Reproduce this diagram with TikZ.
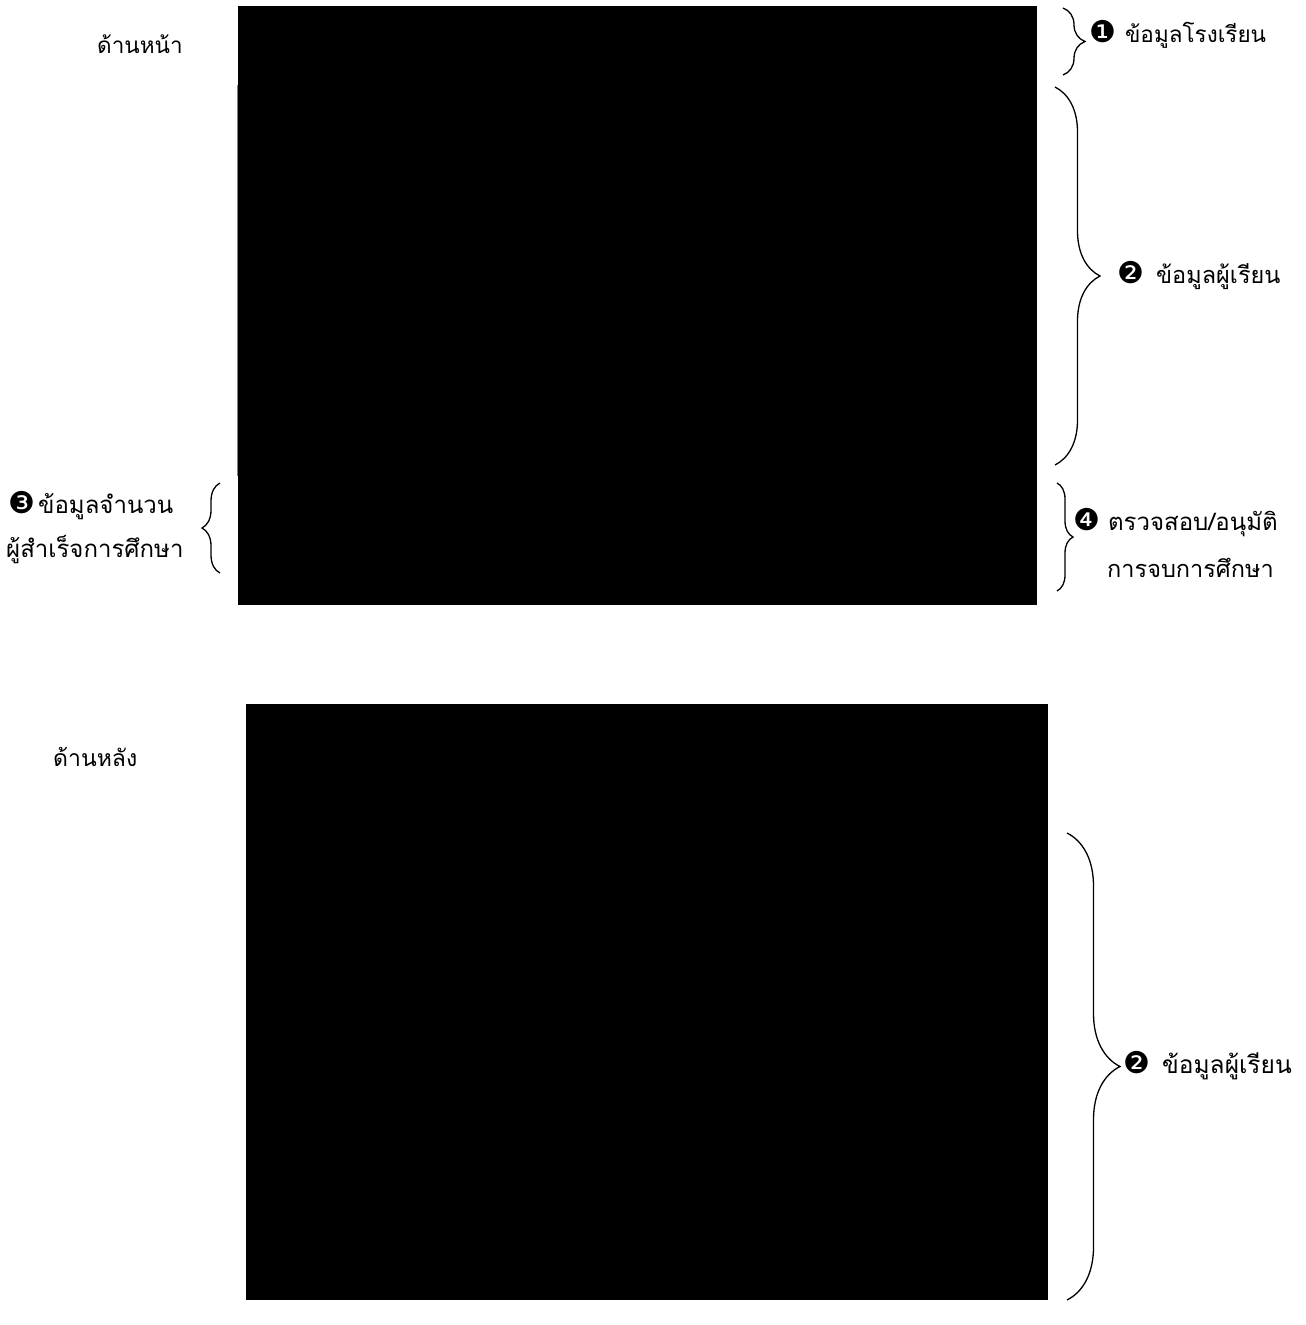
\documentclass[tikz,border=0pt]{standalone}
\usepackage{fontspec}
\newfontfamily\thaifont[Script=Thai]{Loma}
\newfontfamily\symfont{DejaVu Sans}
\usetikzlibrary{decorations.pathreplacing}
\newcommand{\thsize}[1]{\thaifont\fontsize{#1}{1.2\dimexpr#1pt\relax}\selectfont}
\newcommand{\numc}[1]{{\symfont\fontsize{30}{31}\selectfont #1}}
\begin{document}
\begin{tikzpicture}[x=1pt,y=-1pt,
  panel/.style={fill=black, draw=none, inner sep=0pt, outer sep=0pt, anchor=north west},
  lbl/.style={font=\thsize{23}, inner sep=0pt, anchor=base west},
  bracer/.style={decorate, decoration={brace, amplitude=#1}, line width=1.3pt},
]
\fill[white] (0,0) rectangle (1306,1325);
\useasboundingbox (0,0) rectangle (1306,1325);

% panels
\node[panel, minimum width=799pt, minimum height=599pt] (front) at (238,6) {};
\node[panel, minimum width=802pt, minimum height=596pt] (back) at (246,704) {};
\draw[gray, line width=0.8pt] (237,85) -- (237,476);

% side labels
\node[lbl, font=\thsize{22.5}] (lfront) at (97,53) {ด้านหน้า};
\node[lbl] (lback) at (53,766) {ด้านหลัง};

% brace 1
\coordinate (b1a) at (1063,8); \coordinate (b1b) at (1063,75);
\draw[bracer=22pt] (b1a) -- (b1b);
\node[lbl, font=\thsize{22.5}] (t1) at (1089,42) {\numc{❶}\hspace{9pt}ข้อมูลโรงเรียน};

% brace 2
\coordinate (b2a) at (1055,87); \coordinate (b2b) at (1055,465);
\draw[bracer=45pt] (b2a) -- (b2b);
\node[lbl, font=\thsize{23.5}] (t2) at (1117,283) {\numc{❷}\hspace{12pt}ข้อมูลผู้เรียน};

% brace 3 (left)
\coordinate (b3a) at (220,573); \coordinate (b3b) at (220,483);
\draw[bracer=18pt] (b3a) -- (b3b);
\node[lbl, font=\thsize{24}] (t3a) at (8,513) {\numc{❸}\hspace{3pt}ข้อมูลจำนวน};
\node[lbl, font=\thsize{24}] (t3b) at (6,557) {ผู้สำเร็จการศึกษา};

% brace 4
\coordinate (b4a) at (1057,483); \coordinate (b4b) at (1057,591);
\draw[bracer=16pt] (b4a) -- (b4b);
\node[lbl, font=\thsize{24}] (t4a) at (1073,530) {\numc{❹}\hspace{8pt}ตรวจสอบ/อนุมัติ};
\node[lbl, font=\thsize{23.5}] (t4b) at (1107,577) {การจบการศึกษา};

% brace 5
\coordinate (b5a) at (1067,833); \coordinate (b5b) at (1067,1300);
\draw[bracer=53pt] (b5a) -- (b5b);
\node[lbl, font=\thsize{24.5}] (t5) at (1123,1073) {\numc{❷}\hspace{12pt}ข้อมูลผู้เรียน};
\end{tikzpicture}
\end{document}
